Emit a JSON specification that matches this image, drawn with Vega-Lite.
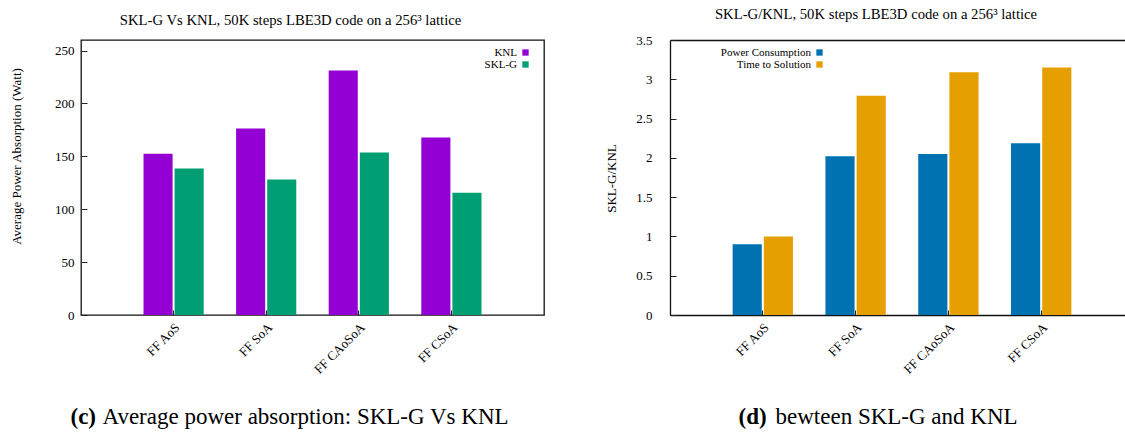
{
  "$schema": "https://vega.github.io/schema/vega-lite/v6.json",
  "background": "white",
  "padding": {"left": 9, "top": 7, "right": 0, "bottom": 0},
  "bounds": "flush",
  "spacing": 126,
  "resolve": {"scale": {"color": "independent", "xOffset": "independent", "x": "independent", "y": "independent"}, "legend": {"color": "independent"}},
  "config": {
    "font": "Liberation Serif",
    "view": {"stroke": "#111", "strokeWidth": 1.3},
    "axis": {"labelFont": "Liberation Serif", "titleFont": "Liberation Serif", "labelColor": "#000", "titleColor": "#000", "tickColor": "#222", "grid": false, "domain": false, "titleFontWeight": "normal", "labelFontSize": 13, "titleFontSize": 13},
    "legend": {"labelFont": "Liberation Serif", "labelFontSize": 11, "labelColor": "#000"},
    "title": {"font": "Liberation Serif", "fontWeight": "normal", "color": "#000"}
  },
  "hconcat": [
    {
      "width": 463,
      "height": 275,
      "title": {"text": "SKL-G Vs KNL, 50K steps LBE3D code on a 256³ lattice", "fontSize": 14.7, "frame": "group", "anchor": "middle", "baseline": "alphabetic", "offset": 0, "dx": -22},
      "data": {"values": [
        {"code": "FF AoS", "platform": "KNL", "watt": 152.5},
        {"code": "FF AoS", "platform": "SKL-G", "watt": 138.5},
        {"code": "FF SoA", "platform": "KNL", "watt": 176.4},
        {"code": "FF SoA", "platform": "SKL-G", "watt": 128.2},
        {"code": "FF CAoSoA", "platform": "KNL", "watt": 231.2},
        {"code": "FF CAoSoA", "platform": "SKL-G", "watt": 153.6},
        {"code": "FF CSoA", "platform": "KNL", "watt": 167.9},
        {"code": "FF CSoA", "platform": "SKL-G", "watt": 115.7}
      ]},
      "layer": [
        {
          "mark": {"type": "bar"},
          "encoding": {
            "x": {"field": "code", "type": "nominal", "sort": ["FF AoS", "FF SoA", "FF CAoSoA", "FF CSoA"],
              "scale": {"paddingInner": 0.35, "paddingOuter": 0.675},
              "axis": {"labelAngle": -45, "labelAlign": "right", "labelBaseline": "middle", "tickSize": -5, "labelPadding": 15, "labelOffset": 4,
                "title": "Average power absorption: SKL-G Vs KNL", "titleFontSize": 23, "titleX": 21, "titleY": 108, "titleAlign": "left", "titleAnchor": null, "titleBaseline": "alphabetic"}},
            "xOffset": {"field": "platform", "type": "nominal", "sort": ["KNL", "SKL-G"], "scale": {"paddingInner": 0.065}},
            "y": {"field": "watt", "type": "quantitative", "scale": {"domain": [0, 250]},
              "axis": {"values": [0, 50, 100, 150, 200, 250], "tickSize": -6, "labelPadding": 13,
                "title": "Average Power Absorption (Watt)", "titleX": -65, "titleY": 116, "titleBaseline": "middle", "titleAlign": "center"}},
            "color": {"field": "platform", "type": "nominal", "scale": {"domain": ["KNL", "SKL-G"], "range": ["#9400D3", "#009E73"]},
              "legend": {"orient": "none", "legendX": 439, "legendY": 7, "title": null, "labelAlign": "right", "labelOffset": -14, "symbolType": "square", "symbolSize": 40, "symbolStrokeWidth": 0, "symbolOpacity": 1, "rowPadding": 0}}
          }
        },
        {
          "mark": {"type": "rule", "strokeOpacity": 0},
          "encoding": {
            "y": {"datum": 0, "type": "quantitative",
              "axis": {"orient": "right", "labels": false, "ticks": false, "domain": false, "title": "(c)", "titleAngle": 0, "titleX": -474, "titleY": 383, "titleAlign": "left", "titleBaseline": "alphabetic", "titleFontSize": 23, "titleFontWeight": "bold"}}
          }
        }
      ],
      "resolve": {"axis": {"y": "independent"}}
    },
    {
      "width": 464,
      "height": 275,
      "view": {"stroke": null},
      "title": {"text": "SKL-G/KNL, 50K steps LBE3D code on a 256³ lattice", "fontSize": 14.7, "frame": "group", "anchor": "middle", "baseline": "alphabetic", "offset": 0, "dx": -26},
      "data": {"values": [
        {"code": "FF AoS", "metric": "Power Consumption", "ratio": 0.9},
        {"code": "FF AoS", "metric": "Time to Solution", "ratio": 1.0},
        {"code": "FF SoA", "metric": "Power Consumption", "ratio": 2.02},
        {"code": "FF SoA", "metric": "Time to Solution", "ratio": 2.79},
        {"code": "FF CAoSoA", "metric": "Power Consumption", "ratio": 2.05},
        {"code": "FF CAoSoA", "metric": "Time to Solution", "ratio": 3.09},
        {"code": "FF CSoA", "metric": "Power Consumption", "ratio": 2.185},
        {"code": "FF CSoA", "metric": "Time to Solution", "ratio": 3.15}
      ]},
      "layer": [
        {
          "mark": {"type": "bar"},
          "encoding": {
            "x": {"field": "code", "type": "nominal", "sort": ["FF AoS", "FF SoA", "FF CAoSoA", "FF CSoA"],
              "scale": {"paddingInner": 0.35, "paddingOuter": 0.675},
              "axis": {"labelAngle": -45, "labelAlign": "right", "labelBaseline": "middle", "tickSize": -5, "labelPadding": 15, "labelOffset": 4,
                "domain": true, "domainColor": "#111", "domainWidth": 1.3,
                "title": "bewteen SKL-G and KNL", "titleFontSize": 23, "titleX": 105, "titleY": 108, "titleAlign": "left", "titleAnchor": null, "titleBaseline": "alphabetic"}},
            "xOffset": {"field": "metric", "type": "nominal", "sort": ["Power Consumption", "Time to Solution"], "scale": {"paddingInner": 0.065}},
            "y": {"field": "ratio", "type": "quantitative", "scale": {"domain": [0, 3.5]},
              "axis": {"values": [0, 0.5, 1, 1.5, 2, 2.5, 3, 3.5], "format": "~g", "tickSize": -6, "labelPadding": 24,
                "domain": true, "domainColor": "#111", "domainWidth": 1.3,
                "title": "SKL-G/KNL", "titleX": -59, "titleY": 138, "titleBaseline": "middle", "titleAlign": "center"}},
            "color": {"field": "metric", "type": "nominal", "scale": {"domain": ["Power Consumption", "Time to Solution"], "range": ["#0072B2", "#E69F00"]},
              "legend": {"orient": "none", "legendX": 144, "legendY": 7, "title": null, "labelAlign": "right", "labelOffset": -14, "symbolType": "square", "symbolSize": 40, "symbolStrokeWidth": 0, "symbolOpacity": 1, "rowPadding": 0}}
          }
        },
        {
          "mark": {"type": "rule", "strokeOpacity": 0},
          "encoding": {
            "x": {"datum": "FF AoS", "type": "nominal",
              "axis": {"orient": "top", "labels": false, "ticks": false, "domain": true, "domainColor": "#111", "domainWidth": 1.3, "title": "(d)", "titleAngle": 0, "titleX": 68, "titleY": 383, "titleAlign": "left", "titleBaseline": "alphabetic", "titleFontSize": 23, "titleFontWeight": "bold"}}
          }
        }
      ],
      "resolve": {"axis": {"x": "independent"}}
    }
  ]
}
